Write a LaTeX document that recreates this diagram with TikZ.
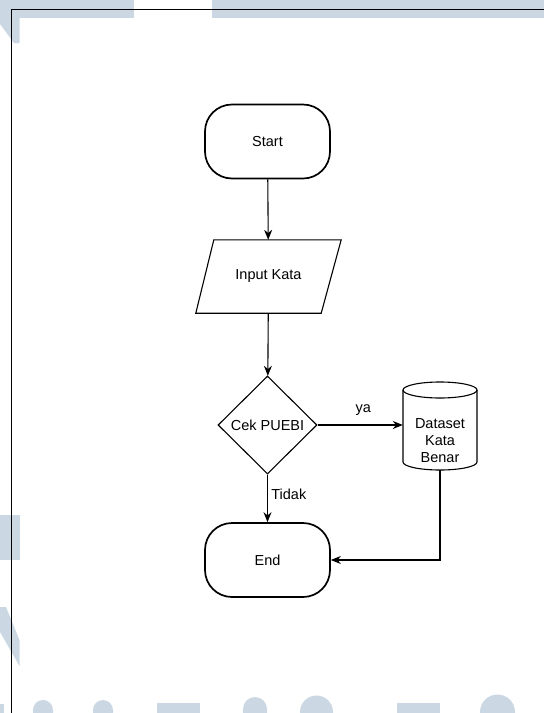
\documentclass[tikz,border=0pt]{standalone}
\usepackage{fontspec}
\setmainfont{Liberation Sans}
\usetikzlibrary{shapes.geometric,arrows.meta}
\definecolor{wm}{HTML}{CBD8E3}
\tikzset{
  term/.style={draw, line width=1.7pt, rounded corners=27pt, minimum width=125pt, minimum height=74pt, inner sep=0pt},
  thin/.style={draw, line width=1.1pt},
  conn/.style={line width=1.1pt, -{Stealth[length=10pt,width=8pt]}},
  lbl/.style={font=\fontsize{14.5}{17}\selectfont},
}
\begin{document}
\begin{tikzpicture}[x=1pt,y=-1pt, font=\fontsize{14.5}{17}\selectfont]
\useasboundingbox (0,0) rectangle (544,713);
% watermark
\fill[wm] (0,0) rectangle (134,17.5);
\fill[wm] (212,0) rectangle (544,17.5);
\fill[wm] (0,17.5) -- (19.5,17.5) -- (19.5,43) -- (14,43) -- (0,24) -- cycle;
\fill[wm] (0,515) rectangle (20,560);
\fill[wm] (0,607) -- (6,607) -- (19.5,640) -- (19.5,666) -- (0,632) -- cycle;
\fill[wm] (0,704) rectangle (4,713);
\fill[wm] (33,713) -- (33,710) arc[start angle=180,end angle=0,radius=10pt] -- (53,713) -- cycle;
\fill[wm] (93,713) -- (93,710) arc[start angle=180,end angle=0,radius=10pt] -- (113,713) -- cycle;
\fill[wm] (157,703) rectangle (200,713);
\fill[wm] (243,713) -- (243,709) arc[start angle=180,end angle=0,radius=12pt] -- (267,713) -- cycle;
\fill[wm] (300,713) -- (300,712) arc[start angle=180,end angle=0,radius=16.5pt] -- (333,713) -- cycle;
\fill[wm] (397,703) rectangle (440,713);
\fill[wm] (480,713) -- (480,712) arc[start angle=180,end angle=0,radius=17.5pt] -- (515,713) -- cycle;
% frame
\draw[line width=0.9pt] (544,9.5) -- (11.5,9.5) -- (11.5,713);
% nodes
\node[term] (start) at (267.5,141.5) {Start};
\node[minimum width=127pt, minimum height=73pt, inner sep=0pt] (inp) at (268.5,276.5) {Input Kata};
\draw[line width=1.1pt] ([xshift=9pt]inp.north west) -- ([xshift=9pt]inp.north east) -- ([xshift=-11pt]inp.south east) -- ([xshift=-9pt]inp.south west) -- cycle;
\node[diamond, thin, minimum width=99pt, minimum height=98pt, inner sep=0pt] (dia) at (267.5,425) {Cek PUEBI};
\node[minimum width=74pt, minimum height=88pt, inner sep=0pt] (db) at (440,426) {};
\draw[line width=1.1pt] (403,390) -- (403,462) arc[start angle=180,end angle=360,x radius=37pt,y radius=8pt] -- (477,390);
\draw[line width=1.1pt] (440,390) ellipse[x radius=37pt,y radius=8pt];
\node[align=center, inner sep=0pt] (dbt) at (440,441) {Dataset\\Kata\\Benar};
\node[term] (end) at (267.5,560) {End};
% connectors
\draw[conn] (start) -- (inp);
\draw[conn] (inp) -- (dia);
\draw[conn] (dia.east) -- node[above=6pt, xshift=3pt] (ya) {ya} (db.west |- dia.east);
\draw[conn] (dia) -- node[right=0pt, pos=0.42] (tidak) {Tidak} (end);
\draw[conn] (db.south) |- (end.east);
\end{tikzpicture}
\end{document}
